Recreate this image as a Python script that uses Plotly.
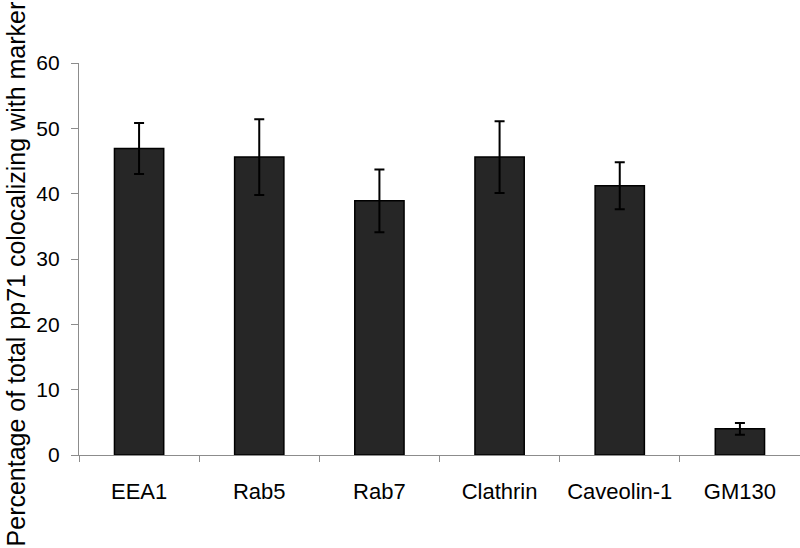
import plotly.graph_objects as go

markers = ["EEA1", "Rab5", "Rab7", "Clathrin", "Caveolin-1", "GM130"]
percent_coloc = [46.9, 45.6, 38.9, 45.6, 41.2, 4.0]
error = [3.9, 5.8, 4.8, 5.5, 3.6, 0.9]
y_ticks = [0, 10, 20, 30, 40, 50, 60]

FONT = "Liberation Sans, Arial, sans-serif"
AXIS_GREY = "#8c8c8c"

fig = go.Figure()
fig.add_trace(go.Bar(
    x=markers, y=percent_coloc,
    marker=dict(color="#262626", line=dict(color="black", width=1.5)),
    error_y=dict(type="data", array=error, visible=True, color="black", thickness=2, width=5),
    width=0.41,
))

fig.update_layout(
    width=800, height=548,
    margin=dict(l=79, r=0, t=63, b=93),
    plot_bgcolor="white", paper_bgcolor="white",
    showlegend=False,
    font=dict(family=FONT, size=22, color="black"),
)
fig.update_xaxes(
    range=[-0.5, 5.5], showline=True, linecolor=AXIS_GREY, linewidth=1.2,
    ticks="outside", tickson="boundaries", ticklen=6, tickcolor=AXIS_GREY,
    showgrid=False, tickfont=dict(size=22), ticklabelstandoff=16, automargin=False,
)
fig.update_yaxes(
    range=[0, 60], tickvals=y_ticks, showline=True, linecolor=AXIS_GREY, linewidth=1.2,
    ticks="outside", ticklen=7, tickcolor=AXIS_GREY, showgrid=False, zeroline=False,
    tickfont=dict(size=21), ticklabelstandoff=7, automargin=False,
)
fig.add_annotation(
    text="Percentage of total pp71 colocalizing with marker",
    xref="paper", yref="paper", x=-0.088, y=0.462,
    xanchor="center", yanchor="middle", textangle=-90, showarrow=False,
    font=dict(family=FONT, size=25, color="black"),
)

# drop the browser's default 8px body margin so the figure fills the window
fig.write_html(
    "out.html",
    config={"displayModeBar": False},
    post_script="document.body.style.margin='0';",
)
